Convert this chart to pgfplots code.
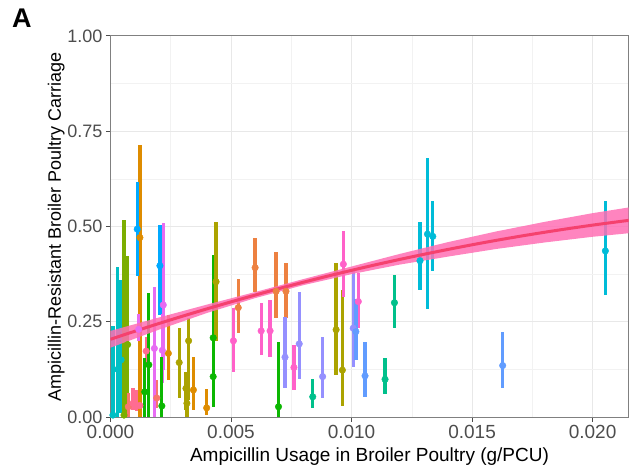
\documentclass[border=0pt]{standalone}
\usepackage{fontspec}
\setmainfont{Liberation Sans}
\usepackage{pgfplots}
\usepackage{pgfplotstable}
\pgfplotsset{compat=1.18}

\definecolor{c1}{HTML}{00BFC4}
\definecolor{c2}{HTML}{7CAE00}
\definecolor{c3}{HTML}{F8766D}
\definecolor{c4}{HTML}{FF6C91}
\definecolor{c5}{HTML}{DE8C00}
\definecolor{c6}{HTML}{00A9FF}
\definecolor{c7}{HTML}{E76BF3}
\definecolor{c8}{HTML}{0CB702}
\definecolor{c9}{HTML}{ABA300}
\definecolor{c10}{HTML}{ED8141}
\definecolor{c11}{HTML}{FF61C9}
\definecolor{c12}{HTML}{9590FF}
\definecolor{c13}{HTML}{00C08B}
\definecolor{c14}{HTML}{619CFF}
\definecolor{c15}{HTML}{00BCD8}
\definecolor{fitline}{HTML}{F5416E}
\definecolor{fitband}{HTML}{FF6EB4}
\definecolor{tickgray}{HTML}{4D4D4D}

\pgfplotstableread{
x y lo hi
0.00010 0.005 0.000 0.239
0.00030 0.125 0.000 0.395
0.00044 0.150 0.010 0.360
}\tA
\pgfplotstableread{
x y lo hi
0.00056 0.005 0.000 0.517
0.00071 0.190 0.000 0.423
}\tB
\pgfplotstableread{
x y lo hi
0.00074 0.027 0.000 0.062
0.00192 0.050 0.024 0.097
}\tC
\pgfplotstableread{
x y lo hi
0.00093 0.036 0.018 0.076
0.00110 0.030 0.015 0.070
0.00122 0.030 0.012 0.070
0.00148 0.173 0.132 0.210
}\tD
\pgfplotstableread{
x y lo hi
0.00122 0.471 0.000 0.714
0.00240 0.167 0.097 0.268
0.00344 0.071 0.018 0.158
0.00399 0.024 0.005 0.073
}\tE
\pgfplotstableread{
x y lo hi
0.00111 0.493 0.369 0.618
0.00205 0.397 0.268 0.504
}\tF
\pgfplotstableread{
x y lo hi
0.00117 0.230 0.200 0.270
0.00182 0.180 0.000 0.340
0.00215 0.175 0.090 0.270
0.00219 0.294 0.123 0.510
}\tG
\pgfplotstableread{
x y lo hi
0.00142 0.066 0.000 0.155
0.00159 0.137 0.000 0.325
0.00213 0.029 0.000 0.158
0.00426 0.106 0.027 0.300
0.00426 0.208 0.080 0.425
0.00697 0.027 0.000 0.198
}\tH
\pgfplotstableread{
x y lo hi
0.00285 0.143 0.050 0.234
0.00313 0.075 0.018 0.119
0.00317 0.036 0.000 0.080
0.00324 0.200 0.045 0.260
0.00438 0.355 0.200 0.513
0.00936 0.229 0.110 0.404
0.00962 0.123 0.030 0.334
}\tI
\pgfplotstableread{
x y lo hi
0.00530 0.287 0.221 0.362
0.00600 0.392 0.329 0.469
0.00687 0.330 0.260 0.434
0.00728 0.330 0.260 0.404
}\tJ
\pgfplotstableread{
x y lo hi
0.00510 0.200 0.119 0.285
0.00625 0.226 0.163 0.299
0.00662 0.226 0.158 0.307
0.00761 0.130 0.070 0.190
0.00966 0.401 0.316 0.487
0.01028 0.303 0.233 0.377
}\tK
\pgfplotstableread{
x y lo hi
0.00724 0.157 0.075 0.263
0.00783 0.192 0.100 0.329
0.00880 0.106 0.049 0.211
0.01007 0.233 0.132 0.382
}\tL
\pgfplotstableread{
x y lo hi
0.00839 0.053 0.023 0.099
0.01139 0.099 0.060 0.156
0.01178 0.300 0.233 0.373
}\tM
\pgfplotstableread{
x y lo hi
0.01018 0.224 0.150 0.310
0.01056 0.108 0.053 0.198
0.01627 0.135 0.077 0.224
}\tN
\pgfplotstableread{
x y lo hi
0.01284 0.410 0.334 0.513
0.01315 0.480 0.283 0.680
0.01337 0.474 0.382 0.567
0.02053 0.436 0.320 0.566
}\tO

\pgfplotsset{
  pt/.style={only marks, mark=*, mark size=3.3bp, color=#1, mark options={draw=#1, fill=#1},
    error bars/.cd, y dir=both, y explicit, error mark=none,
    error bar style={line width=3.3bp, color=#1}},
}
\newcommand{\pts}[2]{\addplot[pt=#1] table[x=x, y=y,
  y error plus expr=\thisrow{hi}-\thisrow{y},
  y error minus expr=\thisrow{y}-\thisrow{lo}] {#2};}

\begin{document}
\begin{tikzpicture}[font=\fontsize{18bp}{21bp}\selectfont]
\path[use as bounding box] (-110.5bp,-49bp) rectangle (520.5bp,417bp);
\begin{axis}[
  at={(0,0)}, anchor=south west,
  scale only axis, width=518bp, height=381bp,
  xmin=0, xmax=0.02149, ymin=0, ymax=1,
  xtick={0,0.005,0.01,0.015,0.02},
  ytick={0,0.25,0.5,0.75,1},
  minor xtick={0.0025,0.0075,0.0125,0.0175},
  minor ytick={0.125,0.375,0.625,0.875},
  grid=both,
  major grid style={color=black!9, line width=1bp},
  minor grid style={color=black!5, line width=0.6bp},
  axis line style={color=black!50, line width=1bp},
  tick align=outside, tick pos=left,
  major tick length=4.5bp, minor tick length=0bp,
  tick style={color=black!70, line width=1bp},
  scaled x ticks=false, scaled y ticks=false,
  ticklabel style={font=\fontsize{18bp}{21bp}\selectfont, text=tickgray},
  xticklabel style={font=\fontsize{19bp}{21bp}\selectfont, /pgf/number format/.cd, fixed, fixed zerofill, precision=3, assume math mode=true},
  yticklabel style={/pgf/number format/.cd, fixed, fixed zerofill, precision=2, assume math mode=true},
  xlabel={Ampicillin Usage in Broiler Poultry (g/PCU)},
  ylabel={Ampicillin-Resistant Broiler Poultry Carriage},
  label style={font=\fontsize{18bp}{21bp}\selectfont, text=black},
  xlabel style={font=\fontsize{19bp}{21bp}\selectfont, yshift=-2bp},
  ylabel style={yshift=-4bp},
]
\pts{c1}{\tA}
\pts{c2}{\tB}
\pts{c3}{\tC}
\pts{c4}{\tD}
\pts{c5}{\tE}
\pts{c6}{\tF}
\pts{c7}{\tG}
\pts{c8}{\tH}
\pts{c9}{\tI}
\pts{c10}{\tJ}
\pts{c11}{\tK}
\pts{c12}{\tL}
\pts{c13}{\tM}
\pts{c14}{\tN}
\pts{c15}{\tO}
\addplot[fill=fitband, fill opacity=0.85, draw=none] coordinates {
(0,0.226) (0.002,0.261) (0.004,0.295) (0.006,0.328) (0.008,0.362) (0.010,0.395)
(0.012,0.428) (0.014,0.459) (0.016,0.487) (0.018,0.512) (0.020,0.535) (0.0216,0.551)
(0.0216,0.483) (0.020,0.473) (0.018,0.458) (0.016,0.441) (0.014,0.421) (0.012,0.400)
(0.010,0.375) (0.008,0.346) (0.006,0.312) (0.004,0.273) (0.002,0.229) (0,0.182)
} -- cycle;
\addplot[fitline, line width=3bp, smooth] coordinates {
(0,0.204) (0.001,0.2249) (0.002,0.2452) (0.003,0.2648) (0.004,0.2838) (0.005,0.3022)
(0.006,0.3200) (0.007,0.3372) (0.008,0.3537) (0.009,0.3696) (0.010,0.3849) (0.011,0.3996)
(0.012,0.4136) (0.013,0.4270) (0.014,0.4398) (0.015,0.4520) (0.016,0.4636) (0.017,0.4745)
(0.018,0.4848) (0.019,0.4945) (0.020,0.5036) (0.021,0.5120) (0.0216,0.5169)
};
\end{axis}
\node[font=\bfseries\fontsize{27bp}{27bp}\selectfont] at (-88.5bp,399bp) {A};
\end{tikzpicture}
\end{document}
